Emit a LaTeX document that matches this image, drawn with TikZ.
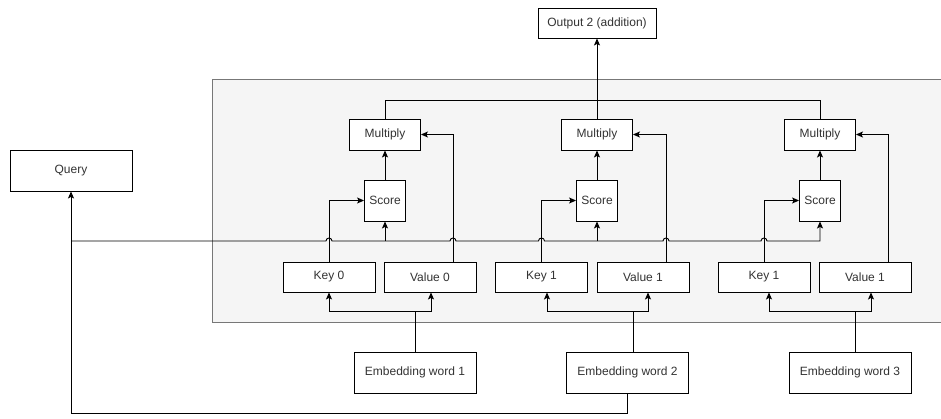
\documentclass[tikz,border=0pt]{standalone}
\usepackage{fontspec}
\setmainfont{Liberation Sans}
\usetikzlibrary{arrows.meta}
\definecolor{panelgray}{HTML}{F5F5F5}
\definecolor{panelline}{HTML}{777777}
\definecolor{txtgray}{HTML}{333333}

\begin{document}
\begin{tikzpicture}[x=1pt,y=-1pt,line width=0.9pt]
    \tikzstyle{box}=[draw=black, fill=white, text=txtgray, font=\fontsize{12}{14}\selectfont, inner sep=0pt]
    \tikzstyle{bigbox}=[box, minimum width=122, minimum height=41]
    \tikzstyle{kvbox}=[box, minimum width=92, minimum height=30]
    \tikzstyle{mulbox}=[box, minimum width=71, minimum height=31]
    \tikzstyle{scorebox}=[box, minimum width=41, minimum height=41]
    \tikzstyle{arr}=[-{Stealth[length=7pt,width=6pt,inset=1.5pt]}]
    \useasboundingbox (0,0) rectangle (941,418);
    \filldraw[fill=panelgray, draw=panelline] (212.5,79) rectangle (948,322);
    \node[bigbox] (query) at (71,170.5){Query};
    \node[box, minimum width=118, minimum height=30] (out) at (597,23){Output 2 (addition)};
    \node[mulbox] (mul1) at (385,134.5){Multiply};
    \node[mulbox] (mul2) at (597,134.5){Multiply};
    \node[mulbox] (mul3) at (820,134.5){Multiply};
    \node[scorebox] (score1) at (385,200.5){Score};
    \node[scorebox] (score2) at (597,200.5){Score};
    \node[scorebox] (score3) at (820,200.5){Score};
    \node[kvbox] (key1) at (329,277){Key 0};
    \node[kvbox] (val1) at (430,277){Value 0};
    \node[kvbox] (key2) at (541.5,277){Key 1};
    \node[kvbox] (val2) at (643,277){Value 1};
    \node[kvbox] (key3) at (764,277){Key 1};
    \node[kvbox] (val3) at (865,277){Value 1};
    \node[bigbox] (emb1) at (415,372.5){Embedding word 1};
    \node[bigbox] (emb2) at (627.5,372.5){Embedding word 2};
    \node[bigbox] (emb3) at (850,372.5){Embedding word 3};
    % sum of the products
    \draw (mul1.north) -- (385,100) -- (820,100) -- (mul3.north);
    \draw[arr] (mul2.north) -- (out.south);
    % query line with hops
    \draw[arr] (query.south |- 0,241) -- (326,241) arc(180:360:3) -- (450,241) arc(180:360:3)
        -- (538.5,241) arc(180:360:3) -- (663,241) arc(180:360:3) -- (761,241) arc(180:360:3)
        -- (score3.south |- 0,241) -- (score3.south);
    \draw[arr] (score1.south |- 0,241) -- (score1.south);
    \draw[arr] (score2.south |- 0,241) -- (score2.south);
    \draw[arr] (key1.north) |- (score1.west);
    \draw[arr] (key2.north) |- (score2.west);
    \draw[arr] (key3.north) |- (score3.west);
    \draw[arr] (score1) -- (mul1);
    \draw[arr] (score2) -- (mul2);
    \draw[arr] (score3) -- (mul3);
    \draw[arr] ([xshift=23pt]val1.north) |- (mul1.east);
    \draw[arr] ([xshift=23pt]val2.north) |- (mul2.east);
    \draw[arr] ([xshift=23pt]val3.north) |- (mul3.east);
    % embeddings into keys and values
    \draw[arr] (emb1.north) -- ++(0,-40) -| (key1.south);
    \draw[arr] (emb1.north) -- ++(0,-40) -| ([xshift=1pt]val1.south);
    \draw[arr] ([xshift=5.5pt]emb2.north) -- ++(0,-40) -| ([xshift=5.5pt]key2.south);
    \draw[arr] ([xshift=5.5pt]emb2.north) -- ++(0,-40) -| ([xshift=5pt]val2.south);
    \draw[arr] ([xshift=5pt]emb3.north) -- ++(0,-40) -| ([xshift=5pt]key3.south);
    \draw[arr] ([xshift=5pt]emb3.north) -- ++(0,-40) -| ([xshift=6pt]val3.south);
    \draw[arr] (emb2.south) -- ++(0,20) -| (query.south);
  \end{tikzpicture}
\end{document}
